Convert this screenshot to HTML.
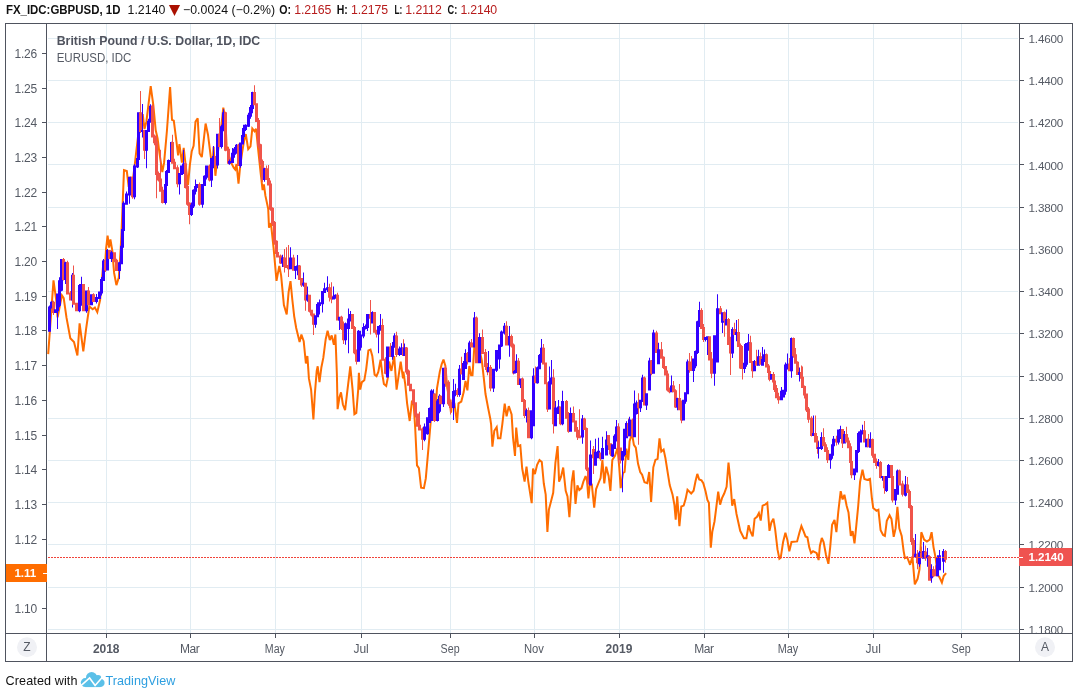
<!DOCTYPE html>
<html lang="en"><head><meta charset="utf-8"><title>FX_IDC:GBPUSD chart</title>
<style>html,body{margin:0;padding:0;background:#fff;}body{width:1077px;height:697px;overflow:hidden;}svg{display:block;will-change:transform;}text{font-family:"Liberation Sans","DejaVu Sans",sans-serif;}</style>
</head><body>
<svg width="1077" height="697" viewBox="0 0 1077 697">
<rect x="0" y="0" width="1077" height="697" fill="#ffffff"/>
<g stroke="#e1ecf2" stroke-width="1" shape-rendering="crispEdges">
<line x1="48" y1="38.5" x2="1018" y2="38.5"/>
<line x1="48" y1="80.5" x2="1018" y2="80.5"/>
<line x1="48" y1="122.5" x2="1018" y2="122.5"/>
<line x1="48" y1="164.5" x2="1018" y2="164.5"/>
<line x1="48" y1="207.5" x2="1018" y2="207.5"/>
<line x1="48" y1="249.5" x2="1018" y2="249.5"/>
<line x1="48" y1="291.5" x2="1018" y2="291.5"/>
<line x1="48" y1="333.5" x2="1018" y2="333.5"/>
<line x1="48" y1="376.5" x2="1018" y2="376.5"/>
<line x1="48" y1="418.5" x2="1018" y2="418.5"/>
<line x1="48" y1="460.5" x2="1018" y2="460.5"/>
<line x1="48" y1="502.5" x2="1018" y2="502.5"/>
<line x1="48" y1="544.5" x2="1018" y2="544.5"/>
<line x1="48" y1="587.5" x2="1018" y2="587.5"/>
<line x1="48" y1="629.5" x2="1018" y2="629.5"/>
<line x1="106.5" y1="24" x2="106.5" y2="633"/>
<line x1="190.5" y1="24" x2="190.5" y2="633"/>
<line x1="275.5" y1="24" x2="275.5" y2="633"/>
<line x1="361.5" y1="24" x2="361.5" y2="633"/>
<line x1="450.5" y1="24" x2="450.5" y2="633"/>
<line x1="534.5" y1="24" x2="534.5" y2="633"/>
<line x1="619.5" y1="24" x2="619.5" y2="633"/>
<line x1="704.5" y1="24" x2="704.5" y2="633"/>
<line x1="788.5" y1="24" x2="788.5" y2="633"/>
<line x1="873.5" y1="24" x2="873.5" y2="633"/>
<line x1="961.5" y1="24" x2="961.5" y2="633"/>
</g>
<polyline fill="none" stroke="#ff6d00" stroke-width="2" stroke-linejoin="miter" stroke-miterlimit="3" stroke-linecap="butt" points="48.2,354.1 53.5,280.4 56.3,300.9 57.6,317.3 61.9,295.3 63.7,298.1 66.5,317.7 70.3,338.2 74.0,342.0 77.4,355.4 79.6,323.3 83.3,351.3 86.1,328.9 89.3,306.5 92.7,309.3 94.9,307.5 97.3,312.1 100.1,300.0 102.0,278.5 103.5,260.8 104.8,270.1 106.1,248.7 107.6,235.6 109.1,247.7 110.4,239.3 112.3,250.5 114.1,272.9 116.4,285.1 118.8,277.6 120.7,248.7 121.6,230.0 124.0,170.2 126.8,171.1 128.7,187.0 130.5,176.7 132.0,187.0 135.2,160.9 138.0,136.6 142.7,114.2 144.5,129.1 146.4,121.7 150.7,86.2 153.3,104.9 155.7,130.1 157.6,138.5 159.5,153.4 162.3,172.1 164.1,162.7 166.9,131.0 170.1,87.1 172.0,119.8 173.8,120.7 176.3,140.3 178.1,155.3 179.4,144.1 181.9,162.7 183.7,147.8 185.6,164.6 188.0,185.1 189.9,164.6 191.7,151.5 193.6,145.9 195.5,121.7 197.7,118.3 199.6,153.4 201.8,157.1 205.6,123.5 208.0,134.7 210.8,157.1 212.7,162.7 213.6,146.9 215.4,175.8 218.2,149.7 221.0,129.1 223.3,107.7 225.3,117.9 226.6,145.9 229.4,157.1 230.9,162.1 233.7,167.7 235.2,169.6 236.5,164.0 238.5,183.6 240.2,165.9 242.1,152.8 243.9,141.6 245.8,134.1 248.2,149.1 250.5,146.3 252.3,128.5 254.6,131.3 256.1,128.9 258.3,150.9 260.7,173.3 262.6,190.1 263.9,184.5 265.4,195.7 268.2,208.8 269.0,227.7 270.9,223.0 273.7,249.1 276.5,280.9 279.3,265.9 281.1,275.3 283.9,305.1 286.7,314.4 288.6,292.1 290.5,281.2 292.3,299.5 294.2,316.3 296.2,328.0 299.6,342.0 301.4,334.5 303.7,341.1 305.9,363.5 307.4,356.0 308.9,378.4 311.1,389.6 313.4,419.4 314.9,393.3 316.7,370.9 317.7,366.3 319.5,382.1 321.4,367.2 323.3,357.9 325.7,339.2 327.6,330.8 329.8,340.1 331.7,335.5 333.9,344.8 335.4,334.5 336.9,374.7 337.6,409.2 339.5,397.1 341.0,392.4 342.9,404.5 345.1,410.1 347.5,389.6 350.3,366.3 352.6,389.6 354.4,414.2 356.3,412.9 358.2,389.6 358.9,372.8 360.2,389.6 361.9,382.1 364.3,380.3 366.2,369.1 368.4,350.4 370.5,349.5 372.3,356.0 374.6,374.7 376.5,376.1 378.3,371.9 380.6,359.7 382.4,374.7 383.9,384.0 386.2,385.9 387.7,378.4 389.1,361.6 391.4,370.9 394.2,356.0 396.6,389.6 398.8,374.7 400.7,361.6 403.0,378.4 403.4,371.6 405.3,384.7 407.1,403.3 409.7,421.0 412.0,400.5 413.7,405.2 415.2,428.0 417.0,465.3 418.9,468.1 421.1,487.7 423.9,488.1 425.8,478.4 428.6,446.7 430.8,420.5 432.9,403.7 435.1,418.2 437.0,388.4 439.8,371.6 441.7,364.1 443.5,359.5 445.4,366.0 447.3,388.4 449.1,397.7 451.0,412.7 452.5,399.6 454.4,403.3 457.0,422.9 458.5,403.3 461.3,401.5 463.7,392.1 465.5,380.9 467.4,390.3 469.3,366.0 471.1,375.3 472.5,375.3 474.3,347.3 476.2,345.5 479.0,347.3 481.8,360.4 483.7,377.2 485.5,394.0 488.3,408.9 490.2,418.2 491.1,424.3 492.4,446.7 494.3,430.8 496.7,427.1 498.0,438.3 500.4,438.3 502.3,424.3 504.7,403.7 506.6,416.4 508.8,406.1 511.6,414.5 513.0,437.3 515.0,456.0 516.2,427.5 518.1,446.1 520.3,445.2 522.2,468.5 524.6,481.6 526.5,466.7 528.3,481.6 531.7,503.1 533.0,468.5 534.9,474.1 537.1,464.8 539.5,460.1 541.8,462.0 543.8,483.5 545.7,494.7 547.4,532.0 548.9,509.6 551.3,500.3 553.2,492.8 555.4,462.9 557.6,446.1 559.1,481.6 561.0,476.9 563.2,467.6 565.7,490.9 567.5,496.5 569.4,517.1 571.8,481.6 573.5,470.4 575.5,504.0 577.4,485.3 579.3,490.0 581.5,488.1 583.4,481.6 585.6,476.0 587.1,481.6 588.4,498.4 589.9,483.5 591.8,484.4 594.2,507.7 596.1,489.1 598.3,483.5 600.6,477.9 602.4,460.1 604.3,483.5 606.2,466.7 608.6,476.0 610.4,490.9 612.3,460.1 615.1,455.5 617.5,448.0 619.2,466.7 620.7,488.1 623.1,472.9 624.6,472.0 626.4,448.7 628.3,459.9 629.6,441.2 632.0,433.7 633.9,444.9 635.8,447.7 638.0,463.6 640.2,472.0 642.1,474.8 644.5,482.3 647.3,483.2 649.2,472.0 651.1,501.9 653.3,467.3 655.4,459.9 657.6,458.9 659.5,438.4 661.3,451.5 663.6,449.6 665.4,458.0 667.9,473.9 669.7,485.1 672.5,494.4 674.4,504.7 675.7,519.6 677.2,496.3 679.4,526.1 681.3,506.5 683.7,505.6 685.6,499.1 687.5,489.7 691.2,493.5 693.6,490.7 695.5,481.3 697.3,473.9 699.2,479.5 701.5,480.4 703.3,483.2 705.6,491.6 707.4,500.0 708.9,502.8 710.8,547.6 712.3,531.7 714.5,521.5 716.4,506.5 718.2,491.6 720.1,504.7 722.0,498.1 724.2,493.5 726.6,486.9 728.5,462.7 730.3,480.4 732.2,505.6 734.2,499.1 736.5,514.0 740.2,530.8 743.9,538.2 746.4,538.2 748.6,525.2 750.5,531.7 752.7,536.4 754.6,518.7 757.0,516.8 758.9,513.1 760.7,520.5 762.6,505.6 765.0,504.7 767.3,502.8 769.5,530.8 771.4,522.4 773.4,518.7 775.1,528.9 777.5,549.4 779.4,558.8 780.7,557.8 783.1,542.0 785.4,532.7 787.4,540.1 789.3,551.3 791.5,542.0 797.1,541.4 799.4,532.7 801.4,526.1 803.7,531.7 805.5,536.4 807.4,537.3 809.3,547.6 811.1,553.2 813.0,551.3 814.9,552.2 816.7,553.2 818.6,560.1 819.9,545.7 821.8,537.9 823.6,542.0 826.0,555.0 828.4,563.8 830.2,547.1 832.1,524.7 834.5,520.0 836.4,532.1 838.3,511.6 840.7,491.1 842.6,499.5 844.4,494.8 846.7,506.0 848.5,512.5 850.8,535.9 852.6,531.2 854.5,543.3 856.4,524.7 858.2,506.0 860.1,481.7 862.5,469.6 864.4,478.9 867.2,479.9 870.0,478.9 871.9,498.5 873.2,507.9 876.5,510.7 878.4,509.7 880.6,530.3 883.1,534.9 884.9,535.9 886.8,520.9 889.6,515.3 891.5,519.1 893.7,536.8 895.6,528.4 897.4,506.9 899.3,528.4 901.7,535.9 903.6,550.8 904.9,558.2 907.3,557.3 910.1,564.8 912.4,556.4 914.8,584.4 917.6,578.8 919.5,569.5 921.3,532.2 924.1,539.7 926.9,541.5 929.7,539.7 931.6,532.2 933.5,547.1 935.7,558.3 937.6,575.1 939.4,577.0 941.9,582.6 943.7,576.0 946.1,573.2"/>
<style>.b{fill:#3200ff}.r{fill:#f0544a}</style><g><path class="b" d="M48,306.5h3V331.8h-3ZM49,305.6h1V331.8h-1Z"/><path class="b" d="M50,301.8h3V308.5h-3ZM51,301.3h1V308.5h-1Z"/><path class="r" d="M52,301.8h3V313.1h-3ZM53,300.8h1V315.1h-1Z"/><path class="b" d="M54,309.3h3V313.1h-3ZM55,309.3h1V313.1h-1Z"/><path class="b" d="M56,293.4h3V311.3h-3ZM57,293.4h1V328.9h-1Z"/><path class="b" d="M58,280.3h3V305.7h-3ZM59,277.3h1V307.2h-1Z"/><path class="b" d="M60,258.9h3V290.7h-3ZM61,258.9h1V291.2h-1Z"/><path class="r" d="M62,258.9h3V279.9h-3ZM63,258.0h1V280.4h-1Z"/><path class="b" d="M64,262.2h3V279.9h-3ZM65,261.7h1V284.1h-1Z"/><path class="r" d="M66,262.2h3V294.5h-3ZM67,260.7h1V294.5h-1Z"/><path class="r" d="M69,292.5h3V300.4h-3ZM70,291.0h1V300.4h-1Z"/><path class="b" d="M71,274.7h3V300.4h-3ZM72,272.9h1V307.5h-1Z"/><path class="r" d="M72,274.7h3V304.7h-3ZM73,265.5h1V304.7h-1Z"/><path class="r" d="M75,302.7h3V311.3h-3ZM76,302.7h1V311.3h-1Z"/><path class="b" d="M78,285.0h3V311.3h-3ZM79,284.0h1V312.3h-1Z"/><path class="b" d="M80,284.1h3V305.7h-3ZM81,276.7h1V305.7h-1Z"/><path class="r" d="M82,284.1h3V311.3h-3ZM83,284.1h1V311.3h-1Z"/><path class="b" d="M85,290.6h3V311.3h-3ZM86,290.6h1V312.8h-1Z"/><path class="r" d="M87,290.6h3V305.3h-3ZM88,286.9h1V305.3h-1Z"/><path class="b" d="M90,294.3h3V305.3h-3ZM91,294.3h1V305.3h-1Z"/><path class="r" d="M92,294.3h3V301.9h-3ZM93,293.3h1V301.9h-1Z"/><path class="b" d="M95,297.1h3V301.9h-3ZM96,294.1h1V303.4h-1Z"/><path class="b" d="M98,291.5h3V299.1h-3ZM99,291.5h1V299.1h-1Z"/><path class="b" d="M100,279.0h3V293.5h-3ZM101,277.0h1V295.5h-1Z"/><path class="b" d="M102,260.4h3V281.0h-3ZM103,258.9h1V281.0h-1Z"/><path class="r" d="M104,260.4h3V270.6h-3ZM105,258.9h1V272.1h-1Z"/><path class="b" d="M106,249.9h3V270.6h-3ZM107,248.9h1V270.6h-1Z"/><path class="r" d="M108,249.9h3V259.0h-3ZM109,249.9h1V259.0h-1Z"/><path class="b" d="M110,252.3h3V259.0h-3ZM111,250.8h1V262.0h-1Z"/><path class="r" d="M113,252.3h3V261.8h-3ZM114,252.3h1V262.3h-1Z"/><path class="r" d="M115,259.8h3V271.1h-3ZM116,258.8h1V271.1h-1Z"/><path class="b" d="M118,262.2h3V271.1h-3ZM119,261.7h1V278.9h-1Z"/><path class="b" d="M120,245.8h3V264.2h-3ZM121,244.3h1V264.2h-1Z"/><path class="b" d="M121,229.0h3V247.8h-3ZM122,227.5h1V248.3h-1Z"/><path class="b" d="M122,202.8h3V231.0h-3ZM123,201.3h1V234.0h-1Z"/><path class="b" d="M125,193.4h3V204.8h-3ZM126,191.4h1V204.8h-1Z"/><path class="b" d="M128,176.7h3V195.4h-3ZM129,176.7h1V203.8h-1Z"/><path class="r" d="M131,176.7h3V197.3h-3ZM132,176.7h1V198.8h-1Z"/><path class="b" d="M133,165.5h3V197.3h-3ZM134,164.0h1V199.3h-1Z"/><path class="b" d="M136,158.0h3V167.5h-3ZM137,158.0h1V168.0h-1Z"/><path class="b" d="M137,112.3h3V160.0h-3ZM138,112.3h1V161.5h-1Z"/><path class="r" d="M139,112.3h3V132.0h-3ZM140,90.9h1V132.9h-1Z"/><path class="b" d="M141,130.0h3V132.0h-3ZM142,103.9h1V137.5h-1Z"/><path class="r" d="M143,130.0h3V150.7h-3ZM144,130.0h1V159.0h-1Z"/><path class="b" d="M145,130.0h3V150.7h-3ZM146,130.0h1V168.3h-1Z"/><path class="b" d="M147,120.7h3V132.0h-3ZM148,118.7h1V132.0h-1Z"/><path class="b" d="M149,105.7h3V122.7h-3ZM150,104.2h1V122.7h-1Z"/><path class="r" d="M151,105.7h3V137.6h-3ZM152,104.2h1V137.6h-1Z"/><path class="r" d="M153,135.6h3V143.2h-3ZM154,134.6h1V145.2h-1Z"/><path class="r" d="M155,141.2h3V174.9h-3ZM156,135.7h1V198.2h-1Z"/><path class="r" d="M157,172.9h3V180.5h-3ZM158,171.4h1V181.5h-1Z"/><path class="r" d="M159,178.5h3V191.7h-3ZM160,149.7h1V191.7h-1Z"/><path class="r" d="M161,189.7h3V202.9h-3ZM162,186.7h1V203.4h-1Z"/><path class="b" d="M164,184.1h3V202.9h-3ZM165,183.1h1V204.4h-1Z"/><path class="b" d="M165,171.1h3V186.1h-3ZM166,170.1h1V186.6h-1Z"/><path class="b" d="M167,159.9h3V173.1h-3ZM168,159.4h1V173.1h-1Z"/><path class="b" d="M170,142.1h3V161.9h-3ZM171,141.8h1V162.7h-1Z"/><path class="r" d="M171,142.1h3V163.7h-3ZM172,134.7h1V163.7h-1Z"/><path class="r" d="M173,161.7h3V169.3h-3ZM174,158.7h1V169.3h-1Z"/><path class="r" d="M176,167.3h3V184.2h-3ZM177,165.3h1V187.2h-1Z"/><path class="b" d="M178,172.9h3V184.2h-3ZM179,172.9h1V194.4h-1Z"/><path class="b" d="M180,165.5h3V174.9h-3ZM181,165.5h1V174.9h-1Z"/><path class="b" d="M182,163.6h3V167.5h-3ZM183,149.7h1V173.9h-1Z"/><path class="r" d="M184,163.6h3V188.0h-3ZM185,162.1h1V188.5h-1Z"/><path class="r" d="M186,186.0h3V204.8h-3ZM187,184.5h1V205.8h-1Z"/><path class="r" d="M188,202.8h3V215.0h-3ZM189,202.3h1V224.3h-1Z"/><path class="b" d="M190,204.6h3V215.0h-3ZM191,202.6h1V216.0h-1Z"/><path class="b" d="M192,189.7h3V206.6h-3ZM193,189.2h1V208.1h-1Z"/><path class="b" d="M194,186.0h3V191.7h-3ZM195,179.5h1V194.4h-1Z"/><path class="b" d="M196,184.1h3V188.0h-3ZM197,184.1h1V188.0h-1Z"/><path class="r" d="M198,184.1h3V204.8h-3ZM199,182.6h1V205.8h-1Z"/><path class="b" d="M201,184.1h3V204.8h-3ZM202,184.1h1V207.8h-1Z"/><path class="b" d="M203,175.7h3V186.1h-3ZM204,175.2h1V186.1h-1Z"/><path class="b" d="M205,165.5h3V177.7h-3ZM206,165.5h1V179.5h-1Z"/><path class="r" d="M208,165.5h3V180.5h-3ZM209,164.5h1V181.5h-1Z"/><path class="b" d="M210,158.0h3V180.5h-3ZM211,158.0h1V187.0h-1Z"/><path class="b" d="M212,156.1h3V160.0h-3ZM213,145.9h1V168.3h-1Z"/><path class="r" d="M214,156.1h3V165.6h-3ZM215,156.1h1V167.6h-1Z"/><path class="b" d="M216,133.7h3V165.6h-3ZM217,133.7h1V168.6h-1Z"/><path class="r" d="M218,133.7h3V146.9h-3ZM219,117.9h1V146.9h-1Z"/><path class="b" d="M220,126.3h3V146.9h-3ZM221,124.8h1V148.4h-1Z"/><path class="b" d="M222,112.3h3V128.3h-3ZM223,109.3h1V131.3h-1Z"/><path class="r" d="M224,112.3h3V150.7h-3ZM225,111.8h1V151.2h-1Z"/><path class="r" d="M227,148.7h3V163.7h-3ZM228,146.7h1V164.2h-1Z"/><path class="b" d="M228,161.1h3V163.7h-3ZM229,159.6h1V164.7h-1Z"/><path class="b" d="M231,152.7h3V163.1h-3ZM232,148.1h1V163.1h-1Z"/><path class="b" d="M233,148.4h3V154.7h-3ZM234,146.9h1V157.7h-1Z"/><path class="b" d="M235,144.7h3V150.4h-3ZM236,144.0h1V153.7h-1Z"/><path class="r" d="M237,144.7h3V165.9h-3ZM238,143.7h1V165.9h-1Z"/><path class="b" d="M239,142.5h3V165.9h-3ZM240,142.5h1V167.7h-1Z"/><path class="b" d="M241,135.0h3V144.5h-3ZM242,132.0h1V144.5h-1Z"/><path class="b" d="M242,127.9h3V137.0h-3ZM243,124.8h1V138.2h-1Z"/><path class="b" d="M244,124.7h3V129.9h-3ZM245,124.2h1V130.9h-1Z"/><path class="b" d="M247,114.8h3V126.7h-3ZM248,112.7h1V127.0h-1Z"/><path class="b" d="M249,107.0h3V116.8h-3ZM250,105.0h1V118.8h-1Z"/><path class="b" d="M251,92.1h3V109.0h-3ZM252,91.8h1V113.2h-1Z"/><path class="r" d="M253,92.1h3V105.3h-3ZM254,85.2h1V105.3h-1Z"/><path class="r" d="M255,103.3h3V122.1h-3ZM256,103.3h1V122.1h-1Z"/><path class="r" d="M257,120.1h3V146.3h-3ZM258,118.1h1V148.3h-1Z"/><path class="r" d="M259,144.3h3V163.1h-3ZM260,143.8h1V165.1h-1Z"/><path class="r" d="M261,161.1h3V179.9h-3ZM262,159.6h1V181.9h-1Z"/><path class="b" d="M263,168.2h3V179.9h-3ZM264,167.7h1V181.7h-1Z"/><path class="r" d="M265,168.2h3V179.9h-3ZM266,165.5h1V179.9h-1Z"/><path class="r" d="M267,177.9h3V185.5h-3ZM268,164.9h1V185.5h-1Z"/><path class="r" d="M269,183.5h3V209.8h-3ZM270,180.5h1V210.8h-1Z"/><path class="r" d="M271,207.8h3V224.0h-3ZM272,207.3h1V226.0h-1Z"/><path class="r" d="M273,222.0h3V242.7h-3ZM274,221.0h1V244.7h-1Z"/><path class="r" d="M275,240.7h3V253.9h-3ZM276,240.2h1V253.9h-1Z"/><path class="r" d="M276,251.9h3V257.6h-3ZM277,243.5h1V257.6h-1Z"/><path class="r" d="M279,255.6h3V263.6h-3ZM280,254.6h1V264.1h-1Z"/><path class="b" d="M281,257.5h3V263.6h-3ZM282,254.7h1V266.9h-1Z"/><path class="r" d="M283,257.5h3V266.9h-3ZM284,249.1h1V272.5h-1Z"/><path class="r" d="M285,264.9h3V267.9h-3ZM286,247.3h1V267.9h-1Z"/><path class="r" d="M287,265.9h3V269.2h-3ZM288,245.0h1V277.1h-1Z"/><path class="b" d="M289,257.5h3V269.2h-3ZM290,247.3h1V269.2h-1Z"/><path class="r" d="M292,257.5h3V270.7h-3ZM293,254.7h1V270.7h-1Z"/><path class="b" d="M294,265.9h3V270.7h-3ZM295,265.9h1V279.0h-1Z"/><path class="b" d="M296,265.5h3V267.9h-3ZM297,255.1h1V275.3h-1Z"/><path class="r" d="M298,265.5h3V280.0h-3ZM299,265.0h1V280.0h-1Z"/><path class="r" d="M300,278.0h3V285.6h-3ZM301,278.0h1V287.1h-1Z"/><path class="b" d="M302,282.8h3V285.6h-3ZM303,272.5h1V286.8h-1Z"/><path class="r" d="M304,282.8h3V300.5h-3ZM305,282.8h1V310.7h-1Z"/><path class="b" d="M306,294.8h3V300.5h-3ZM307,286.5h1V301.8h-1Z"/><path class="r" d="M308,294.8h3V311.7h-3ZM309,294.8h1V312.6h-1Z"/><path class="r" d="M310,309.7h3V315.4h-3ZM311,309.7h1V316.4h-1Z"/><path class="r" d="M312,313.4h3V324.8h-3ZM313,313.4h1V335.0h-1Z"/><path class="b" d="M314,315.3h3V324.8h-3ZM315,315.3h1V327.8h-1Z"/><path class="b" d="M316,304.1h3V317.3h-3ZM317,302.3h1V317.3h-1Z"/><path class="b" d="M318,302.2h3V306.1h-3ZM319,299.5h1V314.4h-1Z"/><path class="b" d="M321,291.1h3V304.2h-3ZM322,291.1h1V312.6h-1Z"/><path class="b" d="M323,288.3h3V293.1h-3ZM324,282.7h1V293.1h-1Z"/><path class="b" d="M326,287.3h3V290.3h-3ZM327,276.2h1V292.1h-1Z"/><path class="r" d="M328,287.3h3V297.7h-3ZM329,283.7h1V301.4h-1Z"/><path class="r" d="M330,295.7h3V299.6h-3ZM331,282.3h1V303.2h-1Z"/><path class="b" d="M332,296.7h3V299.6h-3ZM333,286.5h1V299.6h-1Z"/><path class="b" d="M334,294.8h3V298.7h-3ZM335,294.3h1V298.7h-1Z"/><path class="r" d="M336,294.8h3V320.6h-3ZM337,292.8h1V320.6h-1Z"/><path class="b" d="M338,316.7h3V320.6h-3ZM339,316.7h1V329.9h-1Z"/><path class="r" d="M340,316.7h3V329.0h-3ZM341,315.7h1V330.0h-1Z"/><path class="r" d="M342,327.0h3V340.2h-3ZM343,321.5h1V343.9h-1Z"/><path class="b" d="M344,323.3h3V340.2h-3ZM345,322.4h1V344.8h-1Z"/><path class="b" d="M347,318.6h3V329.0h-3ZM348,308.4h1V353.2h-1Z"/><path class="b" d="M349,313.9h3V320.6h-3ZM350,310.9h1V321.6h-1Z"/><path class="r" d="M351,313.9h3V329.0h-3ZM352,313.9h1V329.0h-1Z"/><path class="r" d="M353,327.0h3V353.3h-3ZM354,326.0h1V354.3h-1Z"/><path class="r" d="M355,351.3h3V361.7h-3ZM356,349.5h1V364.4h-1Z"/><path class="b" d="M357,330.7h3V361.7h-3ZM358,329.9h1V361.7h-1Z"/><path class="b" d="M359,334.5h3V347.7h-3ZM360,330.8h1V350.4h-1Z"/><path class="b" d="M362,327.0h3V336.5h-3ZM363,323.3h1V338.3h-1Z"/><path class="b" d="M364,326.1h3V329.0h-3ZM365,324.6h1V329.5h-1Z"/><path class="b" d="M366,313.9h3V328.1h-3ZM367,313.9h1V331.1h-1Z"/><path class="r" d="M369,313.9h3V318.7h-3ZM370,300.0h1V334.5h-1Z"/><path class="b" d="M371,312.1h3V323.4h-3ZM372,311.2h1V323.4h-1Z"/><path class="r" d="M373,312.1h3V332.7h-3ZM374,312.1h1V332.7h-1Z"/><path class="r" d="M375,330.7h3V334.6h-3ZM376,329.7h1V337.6h-1Z"/><path class="b" d="M377,326.1h3V334.6h-3ZM378,326.1h1V353.2h-1Z"/><path class="b" d="M379,325.1h3V328.1h-3ZM380,314.0h1V330.8h-1Z"/><path class="r" d="M381,325.1h3V360.7h-3ZM382,318.7h1V360.7h-1Z"/><path class="r" d="M384,358.7h3V373.8h-3ZM385,357.2h1V374.3h-1Z"/><path class="b" d="M386,346.6h3V377.5h-3ZM387,346.6h1V377.5h-1Z"/><path class="r" d="M389,346.6h3V357.0h-3ZM390,342.9h1V357.0h-1Z"/><path class="b" d="M391,345.7h3V357.0h-3ZM392,342.0h1V359.7h-1Z"/><path class="b" d="M393,335.4h3V347.7h-3ZM394,333.2h1V347.7h-1Z"/><path class="r" d="M395,335.4h3V355.1h-3ZM396,331.7h1V356.9h-1Z"/><path class="b" d="M398,348.5h3V355.1h-3ZM399,346.5h1V356.1h-1Z"/><path class="b" d="M400,347.5h3V355.1h-3ZM401,343.3h1V355.1h-1Z"/><path class="r" d="M402,347.5h3V356.1h-3ZM403,339.2h1V356.1h-1Z"/><path class="b" d="M403,347.6h3V356.1h-3ZM404,343.6h1V356.1h-1Z"/><path class="r" d="M405,347.6h3V372.6h-3ZM406,347.1h1V374.6h-1Z"/><path class="r" d="M407,370.6h3V385.7h-3ZM408,369.6h1V385.7h-1Z"/><path class="r" d="M409,383.7h3V391.3h-3ZM410,383.7h1V391.3h-1Z"/><path class="r" d="M412,389.3h3V404.3h-3ZM413,389.3h1V404.3h-1Z"/><path class="r" d="M414,402.3h3V415.5h-3ZM415,402.3h1V417.5h-1Z"/><path class="r" d="M416,413.5h3V426.7h-3ZM417,413.5h1V426.7h-1Z"/><path class="r" d="M418,424.7h3V430.4h-3ZM419,411.7h1V430.4h-1Z"/><path class="r" d="M421,428.4h3V439.8h-3ZM422,427.4h1V450.0h-1Z"/><path class="b" d="M423,426.6h3V439.8h-3ZM424,423.6h1V441.3h-1Z"/><path class="b" d="M426,417.2h3V434.2h-3ZM427,417.2h1V434.7h-1Z"/><path class="b" d="M428,407.9h3V423.0h-3ZM429,407.4h1V423.0h-1Z"/><path class="b" d="M430,390.6h3V421.1h-3ZM431,389.3h1V421.1h-1Z"/><path class="b" d="M432,393.4h3V404.3h-3ZM433,389.3h1V404.3h-1Z"/><path class="r" d="M433,393.4h3V421.1h-3ZM434,393.4h1V422.1h-1Z"/><path class="b" d="M436,400.5h3V421.1h-3ZM437,399.0h1V421.6h-1Z"/><path class="b" d="M438,395.8h3V411.8h-3ZM439,394.3h1V413.3h-1Z"/><path class="r" d="M439,395.8h3V404.3h-3ZM440,395.3h1V404.3h-1Z"/><path class="b" d="M442,367.8h3V404.3h-3ZM443,367.8h1V407.1h-1Z"/><path class="r" d="M444,367.8h3V383.8h-3ZM445,365.8h1V386.8h-1Z"/><path class="r" d="M447,381.8h3V404.3h-3ZM448,380.3h1V405.8h-1Z"/><path class="r" d="M449,402.3h3V408.1h-3ZM450,399.6h1V414.5h-1Z"/><path class="b" d="M452,391.1h3V408.1h-3ZM453,379.1h1V420.1h-1Z"/><path class="b" d="M454,390.2h3V393.1h-3ZM455,383.7h1V396.2h-1Z"/><path class="r" d="M456,390.2h3V395.0h-3ZM457,388.2h1V397.0h-1Z"/><path class="b" d="M458,368.7h3V395.0h-3ZM459,365.1h1V396.8h-1Z"/><path class="r" d="M460,368.7h3V374.5h-3ZM461,356.7h1V374.5h-1Z"/><path class="b" d="M462,363.1h3V380.1h-3ZM463,361.1h1V380.1h-1Z"/><path class="b" d="M464,352.9h3V368.9h-3ZM465,349.2h1V368.9h-1Z"/><path class="r" d="M466,352.9h3V361.4h-3ZM467,351.9h1V364.4h-1Z"/><path class="b" d="M468,342.6h3V362.3h-3ZM469,340.8h1V362.3h-1Z"/><path class="r" d="M470,342.6h3V347.4h-3ZM471,338.9h1V347.4h-1Z"/><path class="b" d="M473,317.4h3V347.4h-3ZM474,311.9h1V347.4h-1Z"/><path class="r" d="M475,317.4h3V363.3h-3ZM476,316.5h1V363.3h-1Z"/><path class="b" d="M478,337.0h3V363.3h-3ZM479,333.3h1V363.3h-1Z"/><path class="r" d="M481,337.0h3V353.9h-3ZM482,329.6h1V353.9h-1Z"/><path class="r" d="M484,351.9h3V367.0h-3ZM485,348.9h1V370.0h-1Z"/><path class="r" d="M486,365.0h3V372.2h-3ZM487,363.0h1V375.2h-1Z"/><path class="b" d="M487,366.9h3V372.2h-3ZM488,351.1h1V372.2h-1Z"/><path class="r" d="M489,366.9h3V388.5h-3ZM490,365.1h1V391.2h-1Z"/><path class="b" d="M492,368.7h3V388.5h-3ZM493,368.7h1V392.1h-1Z"/><path class="b" d="M495,350.1h3V370.7h-3ZM496,350.1h1V372.0h-1Z"/><path class="b" d="M498,344.5h3V359.5h-3ZM499,344.5h1V368.8h-1Z"/><path class="b" d="M500,331.4h3V346.5h-3ZM501,330.5h1V347.0h-1Z"/><path class="b" d="M503,325.8h3V333.4h-3ZM504,323.1h1V334.6h-1Z"/><path class="r" d="M505,325.8h3V345.5h-3ZM506,321.2h1V345.5h-1Z"/><path class="b" d="M508,336.1h3V345.5h-3ZM509,325.9h1V356.7h-1Z"/><path class="r" d="M510,336.1h3V346.5h-3ZM511,334.6h1V347.5h-1Z"/><path class="r" d="M512,344.5h3V373.5h-3ZM513,343.5h1V374.5h-1Z"/><path class="b" d="M513,371.0h3V373.5h-3ZM514,370.0h1V373.5h-1Z"/><path class="b" d="M515,360.7h3V373.0h-3ZM516,354.3h1V373.0h-1Z"/><path class="r" d="M517,360.7h3V385.1h-3ZM518,358.0h1V385.1h-1Z"/><path class="b" d="M519,378.5h3V385.1h-3ZM520,378.5h1V387.9h-1Z"/><path class="r" d="M521,378.5h3V401.9h-3ZM522,377.6h1V401.9h-1Z"/><path class="r" d="M523,399.9h3V415.9h-3ZM524,398.9h1V417.9h-1Z"/><path class="b" d="M525,410.2h3V415.9h-3ZM526,408.4h1V422.4h-1Z"/><path class="r" d="M527,410.2h3V438.3h-3ZM528,407.5h1V438.3h-1Z"/><path class="b" d="M530,410.2h3V438.3h-3ZM531,410.2h1V439.2h-1Z"/><path class="b" d="M532,375.7h3V426.2h-3ZM533,368.3h1V426.2h-1Z"/><path class="r" d="M534,375.7h3V383.3h-3ZM535,366.4h1V383.3h-1Z"/><path class="b" d="M536,367.3h3V383.3h-3ZM537,366.4h1V383.8h-1Z"/><path class="b" d="M538,355.1h3V369.3h-3ZM539,354.1h1V369.3h-1Z"/><path class="b" d="M540,347.7h3V362.7h-3ZM541,339.0h1V362.7h-1Z"/><path class="r" d="M542,347.7h3V364.6h-3ZM543,344.0h1V364.6h-1Z"/><path class="r" d="M544,362.6h3V384.2h-3ZM545,362.6h1V384.2h-1Z"/><path class="r" d="M546,382.2h3V409.4h-3ZM547,382.2h1V412.1h-1Z"/><path class="b" d="M548,381.3h3V409.4h-3ZM549,366.4h1V409.4h-1Z"/><path class="b" d="M550,377.5h3V383.3h-3ZM551,359.9h1V384.5h-1Z"/><path class="r" d="M552,377.5h3V424.3h-3ZM553,369.2h1V433.6h-1Z"/><path class="b" d="M554,407.4h3V426.2h-3ZM555,400.9h1V426.2h-1Z"/><path class="b" d="M557,406.5h3V414.1h-3ZM558,400.0h1V414.1h-1Z"/><path class="r" d="M559,406.5h3V424.3h-3ZM560,406.5h1V425.3h-1Z"/><path class="b" d="M561,400.9h3V424.3h-3ZM562,390.7h1V425.2h-1Z"/><path class="r" d="M565,400.9h3V418.7h-3ZM566,400.0h1V418.7h-1Z"/><path class="r" d="M567,416.7h3V431.8h-3ZM568,412.1h1V432.7h-1Z"/><path class="b" d="M569,413.0h3V431.8h-3ZM570,407.5h1V431.8h-1Z"/><path class="r" d="M572,413.0h3V422.5h-3ZM573,406.5h1V422.5h-1Z"/><path class="r" d="M574,420.5h3V431.8h-3ZM575,420.5h1V431.8h-1Z"/><path class="r" d="M576,429.8h3V437.4h-3ZM577,427.1h1V440.1h-1Z"/><path class="r" d="M578,435.4h3V438.3h-3ZM579,409.3h1V438.3h-1Z"/><path class="b" d="M581,418.6h3V437.4h-3ZM582,414.9h1V443.8h-1Z"/><path class="r" d="M583,418.6h3V429.9h-3ZM584,417.7h1V429.9h-1Z"/><path class="r" d="M585,427.9h3V469.5h-3ZM586,427.4h1V471.0h-1Z"/><path class="r" d="M587,467.5h3V484.5h-3ZM588,467.5h1V484.5h-1Z"/><path class="b" d="M589,454.5h3V485.4h-3ZM590,440.5h1V485.4h-1Z"/><path class="r" d="M592,448.9h3V458.3h-3ZM593,446.1h1V474.1h-1Z"/><path class="b" d="M594,451.7h3V465.8h-3ZM595,438.7h1V465.8h-1Z"/><path class="b" d="M597,450.7h3V458.3h-3ZM598,437.7h1V458.3h-1Z"/><path class="r" d="M599,452.6h3V459.3h-3ZM600,452.6h1V460.8h-1Z"/><path class="b" d="M601,447.9h3V459.3h-3ZM602,436.8h1V459.3h-1Z"/><path class="b" d="M605,439.5h3V455.5h-3ZM606,431.2h1V455.5h-1Z"/><path class="r" d="M607,434.9h3V445.3h-3ZM608,434.9h1V449.9h-1Z"/><path class="r" d="M609,443.3h3V454.6h-3ZM610,443.3h1V456.1h-1Z"/><path class="b" d="M611,444.2h3V456.5h-3ZM612,444.2h1V457.0h-1Z"/><path class="b" d="M613,435.8h3V449.0h-3ZM614,434.3h1V449.0h-1Z"/><path class="b" d="M615,426.5h3V441.5h-3ZM616,420.0h1V441.5h-1Z"/><path class="r" d="M617,426.5h3V449.4h-3ZM618,423.2h1V463.3h-1Z"/><path class="r" d="M619,447.4h3V460.6h-3ZM620,447.4h1V463.6h-1Z"/><path class="b" d="M621,451.1h3V460.6h-3ZM622,451.1h1V492.2h-1Z"/><path class="b" d="M623,428.7h3V455.0h-3ZM624,428.7h1V456.5h-1Z"/><path class="b" d="M625,423.1h3V438.2h-3ZM626,421.3h1V438.2h-1Z"/><path class="r" d="M627,423.1h3V436.3h-3ZM628,418.5h1V436.3h-1Z"/><path class="b" d="M628,419.4h3V436.3h-3ZM629,416.7h1V436.3h-1Z"/><path class="r" d="M631,419.4h3V437.3h-3ZM632,418.4h1V437.3h-1Z"/><path class="b" d="M633,403.5h3V437.3h-3ZM634,390.5h1V437.3h-1Z"/><path class="b" d="M635,402.6h3V413.9h-3ZM636,400.6h1V414.4h-1Z"/><path class="r" d="M637,402.6h3V408.3h-3ZM638,393.3h1V444.7h-1Z"/><path class="b" d="M639,399.8h3V408.3h-3ZM640,399.8h1V412.0h-1Z"/><path class="b" d="M641,377.4h3V401.8h-3ZM642,374.7h1V402.1h-1Z"/><path class="r" d="M643,377.4h3V405.5h-3ZM644,376.5h1V405.5h-1Z"/><path class="b" d="M645,393.3h3V405.5h-3ZM646,393.3h1V410.1h-1Z"/><path class="b" d="M648,360.5h3V390.4h-3ZM649,357.7h1V390.4h-1Z"/><path class="r" d="M650,360.5h3V373.7h-3ZM651,360.0h1V375.2h-1Z"/><path class="b" d="M652,332.5h3V373.7h-3ZM653,329.7h1V373.7h-1Z"/><path class="r" d="M655,332.5h3V353.1h-3ZM656,330.7h1V353.1h-1Z"/><path class="b" d="M657,349.3h3V364.3h-3ZM658,342.8h1V364.3h-1Z"/><path class="r" d="M660,349.3h3V358.7h-3ZM661,341.9h1V358.7h-1Z"/><path class="r" d="M662,356.7h3V368.1h-3ZM663,356.2h1V369.1h-1Z"/><path class="r" d="M664,366.1h3V375.5h-3ZM665,366.1h1V375.5h-1Z"/><path class="r" d="M666,373.5h3V390.4h-3ZM667,370.5h1V391.4h-1Z"/><path class="r" d="M668,388.4h3V392.3h-3ZM669,387.4h1V393.3h-1Z"/><path class="b" d="M670,385.6h3V392.3h-3ZM671,375.4h1V392.3h-1Z"/><path class="r" d="M672,385.6h3V392.3h-3ZM673,381.0h1V392.3h-1Z"/><path class="r" d="M674,390.3h3V407.4h-3ZM675,389.3h1V407.9h-1Z"/><path class="b" d="M676,398.0h3V407.4h-3ZM677,397.8h1V410.2h-1Z"/><path class="r" d="M678,398.0h3V410.2h-3ZM679,384.0h1V410.2h-1Z"/><path class="r" d="M680,408.2h3V420.5h-3ZM681,400.6h1V423.2h-1Z"/><path class="b" d="M682,399.8h3V420.5h-3ZM683,399.8h1V420.5h-1Z"/><path class="b" d="M684,392.2h3V401.8h-3ZM685,392.2h1V403.8h-1Z"/><path class="b" d="M686,361.4h3V394.2h-3ZM687,359.6h1V394.2h-1Z"/><path class="r" d="M688,361.4h3V369.9h-3ZM689,353.1h1V372.7h-1Z"/><path class="r" d="M690,367.9h3V370.9h-3ZM691,355.9h1V370.9h-1Z"/><path class="b" d="M692,358.6h3V370.9h-3ZM693,358.6h1V382.0h-1Z"/><path class="b" d="M694,351.1h3V366.2h-3ZM695,350.6h1V368.2h-1Z"/><path class="b" d="M696,321.3h3V353.1h-3ZM697,320.8h1V354.1h-1Z"/><path class="b" d="M698,310.1h3V327.0h-3ZM699,301.7h1V327.0h-1Z"/><path class="r" d="M700,310.1h3V328.9h-3ZM701,308.3h1V328.9h-1Z"/><path class="r" d="M702,326.9h3V340.1h-3ZM703,323.9h1V342.1h-1Z"/><path class="b" d="M704,337.1h3V340.1h-3ZM705,337.1h1V341.6h-1Z"/><path class="b" d="M706,336.2h3V339.1h-3ZM707,336.2h1V354.9h-1Z"/><path class="r" d="M708,336.2h3V360.6h-3ZM709,336.2h1V360.6h-1Z"/><path class="r" d="M710,358.6h3V373.7h-3ZM711,352.1h1V378.2h-1Z"/><path class="b" d="M713,335.3h3V373.7h-3ZM714,335.3h1V385.7h-1Z"/><path class="b" d="M716,308.2h3V362.5h-3ZM717,294.3h1V362.5h-1Z"/><path class="r" d="M719,308.2h3V314.3h-3ZM720,305.9h1V314.3h-1Z"/><path class="b" d="M721,312.3h3V322.7h-3ZM722,312.3h1V332.9h-1Z"/><path class="r" d="M723,312.3h3V320.9h-3ZM724,311.5h1V336.7h-1Z"/><path class="b" d="M725,318.9h3V325.5h-3ZM726,309.6h1V325.5h-1Z"/><path class="r" d="M727,318.9h3V345.1h-3ZM728,318.0h1V345.1h-1Z"/><path class="r" d="M729,343.1h3V353.5h-3ZM730,336.7h1V374.9h-1Z"/><path class="b" d="M731,329.1h3V353.5h-3ZM732,327.3h1V358.1h-1Z"/><path class="r" d="M733,329.1h3V334.9h-3ZM734,322.7h1V334.9h-1Z"/><path class="b" d="M735,331.9h3V334.9h-3ZM736,319.9h1V341.3h-1Z"/><path class="r" d="M737,331.9h3V347.0h-3ZM738,318.9h1V347.0h-1Z"/><path class="r" d="M739,345.0h3V368.5h-3ZM740,343.5h1V369.0h-1Z"/><path class="r" d="M741,366.5h3V369.0h-3ZM742,346.0h1V379.6h-1Z"/><path class="b" d="M743,362.7h3V369.0h-3ZM744,344.1h1V373.1h-1Z"/><path class="b" d="M745,343.1h3V364.7h-3ZM746,343.1h1V366.7h-1Z"/><path class="b" d="M747,342.2h3V350.7h-3ZM748,333.9h1V350.7h-1Z"/><path class="r" d="M749,342.2h3V362.9h-3ZM750,335.7h1V362.9h-1Z"/><path class="r" d="M751,360.9h3V371.3h-3ZM752,360.9h1V377.7h-1Z"/><path class="b" d="M753,360.9h3V371.3h-3ZM754,360.0h1V371.3h-1Z"/><path class="r" d="M755,360.9h3V365.7h-3ZM756,349.7h1V365.7h-1Z"/><path class="b" d="M757,356.2h3V365.7h-3ZM758,349.7h1V365.7h-1Z"/><path class="r" d="M759,356.2h3V364.7h-3ZM760,352.5h1V364.7h-1Z"/><path class="b" d="M761,359.0h3V365.7h-3ZM762,346.9h1V365.7h-1Z"/><path class="b" d="M763,354.3h3V361.9h-3ZM764,349.4h1V361.9h-1Z"/><path class="r" d="M765,354.3h3V367.5h-3ZM766,353.5h1V367.5h-1Z"/><path class="r" d="M767,365.5h3V373.1h-3ZM768,364.0h1V373.1h-1Z"/><path class="r" d="M768,371.1h3V379.7h-3ZM769,368.1h1V381.2h-1Z"/><path class="b" d="M770,373.9h3V379.7h-3ZM771,373.9h1V379.7h-1Z"/><path class="r" d="M772,373.9h3V382.5h-3ZM773,372.1h1V382.5h-1Z"/><path class="r" d="M773,380.5h3V389.9h-3ZM774,380.0h1V391.9h-1Z"/><path class="r" d="M775,387.9h3V398.3h-3ZM776,384.9h1V398.3h-1Z"/><path class="r" d="M777,396.3h3V400.2h-3ZM778,392.7h1V403.8h-1Z"/><path class="b" d="M780,390.7h3V400.2h-3ZM781,387.1h1V400.2h-1Z"/><path class="b" d="M782,389.8h3V397.4h-3ZM783,389.8h1V397.4h-1Z"/><path class="b" d="M784,364.6h3V391.8h-3ZM785,362.6h1V394.8h-1Z"/><path class="b" d="M786,363.7h3V369.4h-3ZM787,353.5h1V369.4h-1Z"/><path class="r" d="M788,363.7h3V371.3h-3ZM789,358.1h1V371.3h-1Z"/><path class="b" d="M790,337.9h3V371.3h-3ZM791,337.6h1V377.7h-1Z"/><path class="r" d="M792,337.9h3V356.3h-3ZM793,337.4h1V357.8h-1Z"/><path class="r" d="M794,354.3h3V363.8h-3ZM795,347.9h1V363.8h-1Z"/><path class="r" d="M796,361.8h3V375.0h-3ZM797,361.3h1V375.0h-1Z"/><path class="b" d="M798,372.1h3V375.0h-3ZM799,367.5h1V381.5h-1Z"/><path class="r" d="M800,372.1h3V378.7h-3ZM801,365.6h1V378.7h-1Z"/><path class="r" d="M801,376.7h3V388.1h-3ZM802,366.5h1V388.1h-1Z"/><path class="r" d="M803,386.1h3V395.5h-3ZM804,385.6h1V398.5h-1Z"/><path class="r" d="M805,393.5h3V410.4h-3ZM806,393.5h1V411.9h-1Z"/><path class="r" d="M807,408.4h3V419.8h-3ZM808,406.9h1V422.8h-1Z"/><path class="r" d="M810,417.8h3V436.1h-3ZM811,416.3h1V436.6h-1Z"/><path class="b" d="M812,433.1h3V436.1h-3ZM813,415.5h1V436.1h-1Z"/><path class="r" d="M814,433.1h3V442.6h-3ZM815,415.5h1V442.6h-1Z"/><path class="r" d="M816,440.6h3V449.1h-3ZM817,436.0h1V453.7h-1Z"/><path class="b" d="M817,447.1h3V449.1h-3ZM818,441.6h1V458.4h-1Z"/><path class="b" d="M820,436.9h3V449.1h-3ZM821,432.3h1V450.0h-1Z"/><path class="r" d="M822,436.9h3V446.3h-3ZM823,428.2h1V446.3h-1Z"/><path class="r" d="M824,444.3h3V451.9h-3ZM825,442.3h1V451.9h-1Z"/><path class="r" d="M826,449.9h3V460.3h-3ZM827,447.2h1V463.1h-1Z"/><path class="b" d="M829,453.7h3V460.3h-3ZM830,453.7h1V468.7h-1Z"/><path class="b" d="M831,444.3h3V455.7h-3ZM832,442.8h1V458.7h-1Z"/><path class="b" d="M832,438.7h3V446.3h-3ZM833,436.0h1V447.6h-1Z"/><path class="r" d="M835,438.7h3V442.6h-3ZM836,435.7h1V445.6h-1Z"/><path class="b" d="M837,429.4h3V442.6h-3ZM838,429.4h1V444.4h-1Z"/><path class="b" d="M839,429.0h3V438.9h-3ZM840,425.7h1V438.9h-1Z"/><path class="r" d="M841,429.0h3V443.5h-3ZM842,429.0h1V448.1h-1Z"/><path class="b" d="M843,434.1h3V443.5h-3ZM844,431.1h1V443.5h-1Z"/><path class="r" d="M845,434.1h3V442.6h-3ZM846,426.7h1V442.6h-1Z"/><path class="r" d="M847,440.6h3V448.2h-3ZM848,437.6h1V448.2h-1Z"/><path class="r" d="M849,446.2h3V463.1h-3ZM850,443.2h1V464.1h-1Z"/><path class="r" d="M850,461.1h3V475.3h-3ZM851,459.1h1V478.3h-1Z"/><path class="b" d="M853,468.6h3V475.3h-3ZM854,468.6h1V479.9h-1Z"/><path class="b" d="M855,449.9h3V472.5h-3ZM856,449.9h1V472.5h-1Z"/><path class="b" d="M857,433.1h3V451.9h-3ZM858,431.6h1V452.9h-1Z"/><path class="b" d="M859,431.3h3V442.6h-3ZM860,429.5h1V442.6h-1Z"/><path class="b" d="M861,430.3h3V433.3h-3ZM862,424.8h1V434.5h-1Z"/><path class="r" d="M863,430.3h3V442.6h-3ZM864,421.1h1V442.6h-1Z"/><path class="b" d="M865,438.7h3V447.3h-3ZM866,438.7h1V447.3h-1Z"/><path class="r" d="M867,438.7h3V447.3h-3ZM868,434.1h1V447.3h-1Z"/><path class="b" d="M869,439.1h3V447.8h-3ZM870,432.3h1V447.8h-1Z"/><path class="r" d="M871,439.1h3V455.7h-3ZM872,438.6h1V457.7h-1Z"/><path class="r" d="M873,453.7h3V463.1h-3ZM874,453.7h1V463.1h-1Z"/><path class="r" d="M875,461.1h3V465.9h-3ZM876,458.4h1V468.7h-1Z"/><path class="b" d="M877,462.1h3V465.9h-3ZM878,459.1h1V466.4h-1Z"/><path class="r" d="M879,462.1h3V478.1h-3ZM880,461.1h1V478.6h-1Z"/><path class="b" d="M881,476.1h3V478.1h-3ZM882,476.1h1V480.8h-1Z"/><path class="r" d="M883,476.1h3V488.3h-3ZM884,476.1h1V493.8h-1Z"/><path class="b" d="M885,476.1h3V491.1h-3ZM886,476.1h1V492.0h-1Z"/><path class="b" d="M887,464.9h3V478.1h-3ZM888,464.0h1V478.1h-1Z"/><path class="r" d="M890,464.9h3V478.1h-3ZM891,464.9h1V478.1h-1Z"/><path class="r" d="M891,476.1h3V500.4h-3ZM892,476.1h1V502.4h-1Z"/><path class="b" d="M894,489.1h3V500.4h-3ZM895,489.1h1V505.0h-1Z"/><path class="b" d="M896,470.5h3V494.8h-3ZM897,469.6h1V494.8h-1Z"/><path class="r" d="M898,470.5h3V485.5h-3ZM899,469.6h1V485.5h-1Z"/><path class="r" d="M901,483.5h3V494.8h-3ZM902,480.8h1V496.6h-1Z"/><path class="b" d="M904,484.4h3V495.8h-3ZM905,476.1h1V496.6h-1Z"/><path class="r" d="M906,484.4h3V493.0h-3ZM907,477.1h1V493.0h-1Z"/><path class="r" d="M908,491.0h3V507.9h-3ZM909,489.5h1V508.4h-1Z"/><path class="r" d="M910,505.9h3V542.1h-3ZM911,504.9h1V545.1h-1Z"/><path class="r" d="M912,540.1h3V557.2h-3ZM913,538.1h1V557.7h-1Z"/><path class="b" d="M914,553.8h3V557.2h-3ZM915,534.0h1V557.2h-1Z"/><path class="r" d="M916,554.2h3V563.2h-3ZM917,550.1h1V569.2h-1Z"/><path class="b" d="M918,552.6h3V564.2h-3ZM919,551.1h1V566.7h-1Z"/><path class="r" d="M920,553.1h3V558.2h-3ZM921,546.6h1V558.2h-1Z"/><path class="b" d="M922,551.1h3V558.7h-3ZM923,542.1h1V558.7h-1Z"/><path class="r" d="M924,551.6h3V558.2h-3ZM925,545.6h1V560.7h-1Z"/><path class="b" d="M926,555.2h3V558.2h-3ZM927,548.1h1V566.7h-1Z"/><path class="r" d="M928,556.2h3V580.8h-3ZM929,555.2h1V580.8h-1Z"/><path class="b" d="M930,569.2h3V578.3h-3ZM931,564.2h1V582.8h-1Z"/><path class="r" d="M932,569.2h3V576.3h-3ZM933,566.2h1V577.3h-1Z"/><path class="r" d="M934,569.7h3V576.3h-3ZM935,565.2h1V576.3h-1Z"/><path class="b" d="M936,557.2h3V576.3h-3ZM937,555.2h1V576.3h-1Z"/><path class="b" d="M938,555.2h3V570.2h-3ZM939,550.1h1V570.2h-1Z"/><path class="b" d="M942,551.1h3V561.7h-3ZM943,549.1h1V572.7h-1Z"/><path class="r" d="M944,551.1h3V559.7h-3ZM945,550.1h1V562.7h-1Z"/></g>
<g stroke="#4f535e" stroke-width="1" fill="none" shape-rendering="crispEdges">
<rect x="5.5" y="23.5" width="1067" height="638"/>
<line x1="46.5" y1="23" x2="46.5" y2="662"/>
<line x1="1019.5" y1="23" x2="1019.5" y2="662"/>
<line x1="5" y1="633.5" x2="1073" y2="633.5"/>
<line x1="42" y1="53.5" x2="46" y2="53.5"/>
<line x1="42" y1="88.5" x2="46" y2="88.5"/>
<line x1="42" y1="122.5" x2="46" y2="122.5"/>
<line x1="42" y1="157.5" x2="46" y2="157.5"/>
<line x1="42" y1="192.5" x2="46" y2="192.5"/>
<line x1="42" y1="226.5" x2="46" y2="226.5"/>
<line x1="42" y1="261.5" x2="46" y2="261.5"/>
<line x1="42" y1="296.5" x2="46" y2="296.5"/>
<line x1="42" y1="330.5" x2="46" y2="330.5"/>
<line x1="42" y1="365.5" x2="46" y2="365.5"/>
<line x1="42" y1="400.5" x2="46" y2="400.5"/>
<line x1="42" y1="435.5" x2="46" y2="435.5"/>
<line x1="42" y1="469.5" x2="46" y2="469.5"/>
<line x1="42" y1="504.5" x2="46" y2="504.5"/>
<line x1="42" y1="539.5" x2="46" y2="539.5"/>
<line x1="42" y1="573.5" x2="46" y2="573.5"/>
<line x1="42" y1="608.5" x2="46" y2="608.5"/>
<line x1="1020" y1="38.5" x2="1024" y2="38.5"/>
<line x1="1020" y1="80.5" x2="1024" y2="80.5"/>
<line x1="1020" y1="122.5" x2="1024" y2="122.5"/>
<line x1="1020" y1="164.5" x2="1024" y2="164.5"/>
<line x1="1020" y1="207.5" x2="1024" y2="207.5"/>
<line x1="1020" y1="249.5" x2="1024" y2="249.5"/>
<line x1="1020" y1="291.5" x2="1024" y2="291.5"/>
<line x1="1020" y1="333.5" x2="1024" y2="333.5"/>
<line x1="1020" y1="376.5" x2="1024" y2="376.5"/>
<line x1="1020" y1="418.5" x2="1024" y2="418.5"/>
<line x1="1020" y1="460.5" x2="1024" y2="460.5"/>
<line x1="1020" y1="502.5" x2="1024" y2="502.5"/>
<line x1="1020" y1="544.5" x2="1024" y2="544.5"/>
<line x1="1020" y1="587.5" x2="1024" y2="587.5"/>
<line x1="1020" y1="629.5" x2="1024" y2="629.5"/>
<line x1="106.5" y1="634" x2="106.5" y2="638"/>
<line x1="190.5" y1="634" x2="190.5" y2="638"/>
<line x1="275.5" y1="634" x2="275.5" y2="638"/>
<line x1="361.5" y1="634" x2="361.5" y2="638"/>
<line x1="450.5" y1="634" x2="450.5" y2="638"/>
<line x1="534.5" y1="634" x2="534.5" y2="638"/>
<line x1="619.5" y1="634" x2="619.5" y2="638"/>
<line x1="704.5" y1="634" x2="704.5" y2="638"/>
<line x1="788.5" y1="634" x2="788.5" y2="638"/>
<line x1="873.5" y1="634" x2="873.5" y2="638"/>
<line x1="961.5" y1="634" x2="961.5" y2="638"/>
</g>
<defs><clipPath id="paneclip"><rect x="0" y="24" width="1077" height="609"/></clipPath></defs>
<g fill="#555a64" font-size="12px" clip-path="url(#paneclip)">
<text x="14.50" textLength="22.75" lengthAdjust="spacing" y="57.8">1.26</text>
<text x="14.50" textLength="22.75" lengthAdjust="spacing" y="92.5">1.25</text>
<text x="14.50" textLength="22.75" lengthAdjust="spacing" y="127.2">1.24</text>
<text x="14.50" textLength="22.75" lengthAdjust="spacing" y="161.9">1.23</text>
<text x="14.50" textLength="22.75" lengthAdjust="spacing" y="196.6">1.22</text>
<text x="14.50" textLength="22.75" lengthAdjust="spacing" y="231.3">1.21</text>
<text x="14.50" textLength="22.75" lengthAdjust="spacing" y="266.0">1.20</text>
<text x="14.50" textLength="22.75" lengthAdjust="spacing" y="300.7">1.19</text>
<text x="14.50" textLength="22.75" lengthAdjust="spacing" y="335.4">1.18</text>
<text x="14.50" textLength="22.75" lengthAdjust="spacing" y="370.1">1.17</text>
<text x="14.50" textLength="22.75" lengthAdjust="spacing" y="404.8">1.16</text>
<text x="14.50" textLength="22.75" lengthAdjust="spacing" y="439.5">1.15</text>
<text x="14.50" textLength="22.75" lengthAdjust="spacing" y="474.2">1.14</text>
<text x="14.50" textLength="22.75" lengthAdjust="spacing" y="508.9">1.13</text>
<text x="14.50" textLength="22.75" lengthAdjust="spacing" y="543.6">1.12</text>
<text x="14.50" textLength="22.75" lengthAdjust="spacing" y="613.0">1.10</text>
<text x="1028.50" textLength="34.88" lengthAdjust="spacing" y="42.9" font-size="11.7px">1.4600</text>
<text x="1028.50" textLength="34.88" lengthAdjust="spacing" y="85.1" font-size="11.7px">1.4400</text>
<text x="1028.50" textLength="34.88" lengthAdjust="spacing" y="127.3" font-size="11.7px">1.4200</text>
<text x="1028.50" textLength="34.88" lengthAdjust="spacing" y="169.5" font-size="11.7px">1.4000</text>
<text x="1028.50" textLength="34.88" lengthAdjust="spacing" y="211.7" font-size="11.7px">1.3800</text>
<text x="1028.50" textLength="34.88" lengthAdjust="spacing" y="253.9" font-size="11.7px">1.3600</text>
<text x="1028.50" textLength="34.88" lengthAdjust="spacing" y="296.1" font-size="11.7px">1.3400</text>
<text x="1028.50" textLength="34.88" lengthAdjust="spacing" y="338.3" font-size="11.7px">1.3200</text>
<text x="1028.50" textLength="34.88" lengthAdjust="spacing" y="380.5" font-size="11.7px">1.3000</text>
<text x="1028.50" textLength="34.88" lengthAdjust="spacing" y="422.7" font-size="11.7px">1.2800</text>
<text x="1028.50" textLength="34.88" lengthAdjust="spacing" y="465.0" font-size="11.7px">1.2600</text>
<text x="1028.50" textLength="34.88" lengthAdjust="spacing" y="507.2" font-size="11.7px">1.2400</text>
<text x="1028.50" textLength="34.88" lengthAdjust="spacing" y="549.4" font-size="11.7px">1.2200</text>
<text x="1028.50" textLength="34.88" lengthAdjust="spacing" y="591.6" font-size="11.7px">1.2000</text>
<text x="1028.50" textLength="34.88" lengthAdjust="spacing" y="633.8" font-size="11.7px">1.1800</text>
</g>
<rect x="6" y="564" width="41" height="18" fill="#ff6d00"/>
<line x1="43" y1="573.5" x2="47" y2="573.5" stroke="#fff" stroke-width="1" shape-rendering="crispEdges"/>
<text x="14.50" textLength="21.71" lengthAdjust="spacing" y="577.2" font-size="11.6px" font-weight="bold" fill="#fff">1.11</text>
<rect x="1019" y="548" width="53" height="18" fill="#ef5350"/>
<line x1="1019" y1="557.5" x2="1023" y2="557.5" stroke="#fff" stroke-width="1" shape-rendering="crispEdges"/>
<text x="1028.60" textLength="35.08" lengthAdjust="spacing" y="561.2" font-size="11.6px" font-weight="bold" fill="#fff">1.2140</text>
<line x1="48" y1="557.5" x2="1019" y2="557.5" stroke="#f0433a" stroke-width="1" stroke-dasharray="2,1" shape-rendering="crispEdges"/>
<g fill="#555a64" font-size="12px">
<text x="92.90" textLength="26.65" lengthAdjust="spacing" y="652.8" font-weight="bold">2018</text>
<text x="180.00" textLength="19.82" lengthAdjust="spacing" y="652.8">Mar</text>
<text x="264.80" textLength="20.09" lengthAdjust="spacingAndGlyphs" y="652.8">May</text>
<text x="353.60" textLength="14.98" lengthAdjust="spacing" y="652.8">Jul</text>
<text x="440.60" textLength="18.99" lengthAdjust="spacingAndGlyphs" y="652.8">Sep</text>
<text x="524.00" textLength="19.98" lengthAdjust="spacingAndGlyphs" y="652.8">Nov</text>
<text x="605.60" textLength="26.85" lengthAdjust="spacing" y="652.8" font-weight="bold">2019</text>
<text x="694.30" textLength="19.62" lengthAdjust="spacing" y="652.8">Mar</text>
<text x="777.80" textLength="20.49" lengthAdjust="spacingAndGlyphs" y="652.8">May</text>
<text x="865.40" textLength="15.58" lengthAdjust="spacing" y="652.8">Jul</text>
<text x="951.60" textLength="19.09" lengthAdjust="spacingAndGlyphs" y="652.8">Sep</text>
</g>
<circle cx="27" cy="647.2" r="10" fill="#f0f1f5"/>
<text x="27" y="651.2" font-size="12px" fill="#555a64" text-anchor="middle">Z</text>
<circle cx="1045" cy="647.2" r="10" fill="#f0f1f5"/>
<text x="1045" y="651.2" font-size="12px" fill="#555a64" text-anchor="middle">A</text>
<text x="56.70" textLength="203.52" lengthAdjust="spacing" y="44.8" font-size="12.3px" font-weight="bold" fill="#50535e">British Pound / U.S. Dollar, 1D, IDC</text>
<text x="56.70" textLength="74.71" lengthAdjust="spacingAndGlyphs" y="61.7" font-size="12.3px" fill="#555a64">EURUSD, IDC</text>
<text x="5.90" textLength="114.52" lengthAdjust="spacingAndGlyphs" y="13.7" font-size="12.3px" font-weight="bold" fill="#111">FX_IDC:GBPUSD, 1D</text>
<text x="127.50" textLength="37.88" lengthAdjust="spacing" y="13.7" font-size="12.3px" fill="#111">1.2140</text>
<polygon points="168.9,5 180.1,5 174.5,16" fill="#aa1000"/>
<text x="183.00" textLength="92.19" lengthAdjust="spacing" y="13.7" font-size="12.3px" fill="#111">−0.0024 (−0.2%)</text>
<text x="279.20" textLength="11.81" lengthAdjust="spacingAndGlyphs" y="13.7" font-size="12.3px" font-weight="bold" fill="#111">O:</text>
<text x="294.30" textLength="37.08" lengthAdjust="spacing" y="13.7" font-size="12.3px" fill="#b71c1c">1.2165</text>
<text x="336.70" textLength="11.14" lengthAdjust="spacingAndGlyphs" y="13.7" font-size="12.3px" font-weight="bold" fill="#111">H:</text>
<text x="350.90" textLength="37.28" lengthAdjust="spacing" y="13.7" font-size="12.3px" fill="#b71c1c">1.2175</text>
<text x="394.40" textLength="7.85" lengthAdjust="spacingAndGlyphs" y="13.7" font-size="12.3px" font-weight="bold" fill="#111">L:</text>
<text x="405.30" textLength="36.45" lengthAdjust="spacing" y="13.7" font-size="12.3px" fill="#b71c1c">1.2112</text>
<text x="447.60" textLength="9.74" lengthAdjust="spacingAndGlyphs" y="13.7" font-size="12.3px" font-weight="bold" fill="#111">C:</text>
<text x="460.40" textLength="36.78" lengthAdjust="spacing" y="13.7" font-size="12.3px" fill="#b71c1c">1.2140</text>
<text x="5.60" textLength="71.84" lengthAdjust="spacing" y="684.8" font-size="12.6px" fill="#111">Created with</text>
<g fill="#5bc0e8"><circle cx="91.6" cy="677.8" r="5.7"/><circle cx="85.3" cy="682.6" r="4.5"/><circle cx="98" cy="678.3" r="3.3"/><circle cx="100.4" cy="682.9" r="4.2"/><rect x="85.3" y="680" width="15.1" height="7.1"/></g>
<polyline points="81,685.6 89.6,678 95.1,685.5 102.8,676.8" fill="none" stroke="#fff" stroke-width="1.6" stroke-linejoin="miter"/>
<text x="105.40" textLength="70.01" lengthAdjust="spacing" y="684.8" font-size="12.6px" fill="#2e9fe0">TradingView</text>
</svg></body></html>
